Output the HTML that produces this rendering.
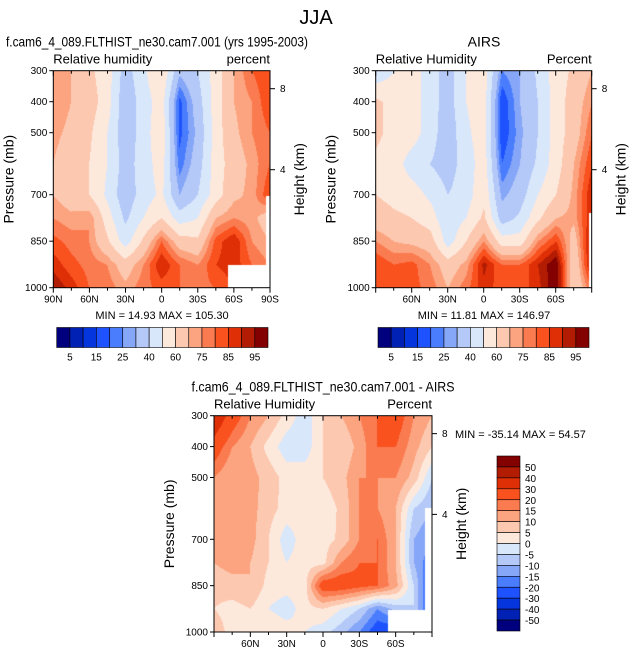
<!DOCTYPE html>
<html><head><meta charset="utf-8">
<style>
body{margin:0;background:#fff;width:631px;height:656px;overflow:hidden;font-family:"Liberation Sans",sans-serif;}
svg text{font-family:"Liberation Sans",sans-serif;fill:#000;}
canvas{position:absolute;}
</style></head>
<body>
<canvas id="c1" width="217" height="217" style="left:53px;top:71px"></canvas>
<canvas id="c2" width="216" height="217" style="left:376px;top:71px"></canvas>
<canvas id="c3" width="218" height="216" style="left:214px;top:416px"></canvas>
<svg id="s" width="631" height="656" style="position:absolute;left:0;top:0"></svg>
<script>
const lats=[90,75,60,45,30,15,0,-15,-30,-45,-60,-75,-90];
const levels=[300,400,500,600,700,775,850,925,1000];
const modelRH=[
[75,70,62,55,35,48,60,32,40,55,70,80,85],
[75,70,65,55,32,45,55,18,35,55,70,75,85],
[72,68,62,50,33,45,58,18,32,55,68,75,80],
[70,65,60,50,35,45,55,22,35,55,65,72,80],
[70,65,60,48,33,45,52,30,40,55,68,72,85],
[75,72,75,55,38,50,60,45,50,70,75,72,65],
[82,78,75,62,45,62,80,65,62,82,90,75,70],
[88,82,78,75,65,75,90,80,75,85,88,80,75],
[95,88,80,78,72,78,82,80,78,80,85,80,75]];
const airsRH=[
[42,50,55,45,35,50,55,25,30,42,55,62,70],
[62,57,55,45,35,50,55,15,30,40,55,65,75],
[62,57,55,45,33,48,55,15,28,40,55,65,80],
[58,55,45,40,35,45,55,20,30,42,55,70,85],
[60,57,55,48,40,45,58,28,35,50,60,72,90],
[65,62,60,55,42,50,62,35,42,58,70,72,90],
[75,70,68,65,45,60,75,55,55,75,85,65,95],
[85,80,82,75,65,72,92,80,80,90,100,60,95],
[85,80,82,78,70,78,88,82,82,88,100,60,80]];
const diffRH=[
[40,25,15,10,3,-3,5,10,15,20,25,15,10],
[25,15,10,3,-3,-3,5,5,12,20,20,12,5],
[15,10,12,8,3,3,5,8,15,15,15,8,-5],
[10,15,12,7,3,3,2,6,15,15,10,-5,-10],
[10,15,12,5,-3,3,3,6,15,20,10,-10,-15],
[10,12,10,5,0,3,3,15,20,20,10,-10,-20],
[7,8,10,3,2,3,25,25,22,20,12,-5,-25],
[5,3,5,0,-3,3,5,0,-5,-15,-8,-5,-25],
[8,3,3,5,3,0,-3,-8,-15,-25,-25,-20,-20]];
const rhLevels=[5,10,15,20,25,30,40,50,60,70,75,80,85,90,95];
const rhLabels=["5","15","25","40","60","75","85","95"];
const diffLevels=[-50,-40,-30,-20,-15,-10,-5,0,5,10,15,20,30,40,50];
const pTicks=[300,400,500,700,850,1000];
const xTicksFull=["90N","60N","30N","0","30S","60S","90S"];
const xTicksFullVals=[90,60,30,0,-30,-60,-90];
const xTicksInner=["60N","30N","0","30S","60S"];
const xTicksInnerVals=[60,30,0,-30,-60];
const colors=["#00007f","#0021b4","#0535dc","#1f52ff","#4a7dfe","#86a6f7","#b4c9f8","#d9e7fb","#fde9dc","#fcc8b0","#fca47f","#fb7b51","#f9521f","#de2f07","#b21c03","#830100"];

function qcol(v,lv){let i=0;while(i<lv.length&&v>=lv[i])i++;return colors[i];}
function sample(grid,lat,p){
  let j=(90-lat)/15; j=Math.max(0,Math.min(12,j));
  let i=0;while(i<levels.length-2&&p>levels[i+1])i++;
  let t=(p-levels[i])/(levels[i+1]-levels[i]);t=Math.max(0,Math.min(1,t));
  let j0=Math.min(11,Math.floor(j)),u=j-j0;
  const a=grid[i][j0]*(1-u)+grid[i][j0+1]*u, b=grid[i+1][j0]*(1-u)+grid[i+1][j0+1]*u;
  return a*(1-t)+b*t;
}
function fill(id,grid,lv,holes){
  const c=document.getElementById(id),g=c.getContext('2d'),W=c.width,H=c.height;
  for(let y=0;y<H;y++)for(let x=0;x<W;x++){
    const lat=90-180*(x+0.5)/W,p=300+700*(y+0.5)/H;
    g.fillStyle=qcol(sample(grid,lat,p),lv);g.fillRect(x,y,1,1);
  }
  g.fillStyle="#fff";holes.forEach(h=>g.fillRect(h[0],h[1],h[2],h[3]));
}
fill('c1',modelRH,rhLevels,[[175,194,42,23],[213,125,4,70]]);
fill('c2',airsRH,rhLevels,[[213,142,3,75]]);
fill('c3',diffRH,diffLevels,[[174,194,44,22],[211,92,7,102]]);

const S=document.getElementById('s');const NS="http://www.w3.org/2000/svg";
function el(t,a,txt){const e=document.createElementNS(NS,t);for(const k in a)e.setAttribute(k,a[k]);if(txt!==undefined)e.textContent=txt;S.appendChild(e);return e;}
function title(x,y,s,t,name,len){const a={x:x,y:y,'font-size':s,'text-anchor':'middle'};
if(len){a.textLength=len;a.lengthAdjust='spacingAndGlyphs';}
const e=el('text',a,t);

}
title(316,24,20,"JJA","main-title");

function panel(px,py,W,H,xl,xv,ttl,ttlX,ttlLen,lt,rt,minmax,mmx,mmy,pfx){
  const xs=v=>px+(90-v)/180*W, ys=p=>py+(p-300)/700*H;
  el('rect',{x:px,y:py,width:W,height:H,fill:'none',stroke:'#000','stroke-width':1});
  pTicks.forEach(p=>{const y=ys(p);el('line',{x1:px-4,y1:y,x2:px,y2:y,stroke:'#000'});
    const t=el('text',{x:px-6,y:y+3.5,'font-size':10,'text-anchor':'end'},p);
    });
  for(let v=90;v>=-90;v-=15){const x=xs(v);const m=(v%30===0)?5:3;
    el('line',{x1:x,y1:py+H,x2:x,y2:py+H+m,stroke:'#000'});el('line',{x1:x,y1:py,x2:x,y2:py+m,stroke:'#000'});}
  xl.forEach((l,k)=>{const t=el('text',{x:xs(xv[k]),y:py+H+15,'font-size':10,'text-anchor':'middle'},l);
    });
  [[8,89],[4,170]].forEach(h=>{const y=py+(h[1]-71)*H/217;el('line',{x1:px+W,y1:y,x2:px+W+5,y2:y,stroke:'#000'});
    el('text',{x:px+W+10,y:y+3.5,'font-size':10},h[0]);});
  const a=el('text',{x:0,y:0,'font-size':14,'text-anchor':'middle',transform:`translate(${px-40},${py+H/2}) rotate(-90)`},"Pressure (mb)");
  
  const b=el('text',{x:0,y:0,'font-size':14,'text-anchor':'middle',transform:`translate(${px+W+34},${py+H/2}) rotate(-90)`},"Height (km)");
  
  title(ttlX,py-24,14,ttl,pfx+'-title',ttlLen);
  const l=el('text',{x:px,y:py-7,'font-size':13},lt);
  const r=el('text',{x:px+W,y:py-7,'font-size':13,'text-anchor':'end'},rt);
  const m=el('text',{x:mmx,y:mmy,'font-size':11,'text-anchor':mmx<px+W?'middle':'start'},minmax);
}
panel(53.3,70.7,216.7,217,xTicksFull,xTicksFullVals,"f.cam6_4_089.FLTHIST_ne30.cam7.001 (yrs 1995-2003)",157,302,"Relative humidity","percent","MIN =  14.93   MAX = 105.30",162,319,"model");
panel(375.7,70.7,216,217,xTicksInner,xTicksInnerVals,"AIRS",484,0,"Relative Humidity","Percent","MIN =  11.81   MAX = 146.97",484,319,"airs");
panel(214,415.7,218,216.3,xTicksInner,xTicksInnerVals,"f.cam6_4_089.FLTHIST_ne30.cam7.001 - AIRS",323,263,"Relative Humidity","Percent","MIN = -35.14  MAX =  54.57",455,438,"diff");

function hbar(x0,x1,y0,h,pfx){const w=(x1-x0)/16;
  colors.forEach((c,k)=>{const r=el('rect',{x:x0+k*w,y:y0,width:w,height:h,fill:c,stroke:'#000','stroke-width':0.6});
    });
  rhLabels.forEach((l,k)=>{const t=el('text',{x:x0+(2*k+1)*w,y:y0+h+13,'font-size':10,'text-anchor':'middle'},l);
    });}
hbar(56.7,268,327.5,20,"model");hbar(378,589,327.5,20,"airs");
(function(){const x0=497,y0=456,w=23,h=(631-456)/16;
  colors.slice().reverse().forEach((c,k)=>{const r=el('rect',{x:x0,y:y0+k*h,width:w,height:h,fill:c,stroke:'#000','stroke-width':0.6});
    });
  diffLevels.slice().reverse().forEach((l,k)=>{const t=el('text',{x:x0+w+5,y:y0+(k+1)*h+4,'font-size':10},l);
    });})();
</script>
</body></html>
